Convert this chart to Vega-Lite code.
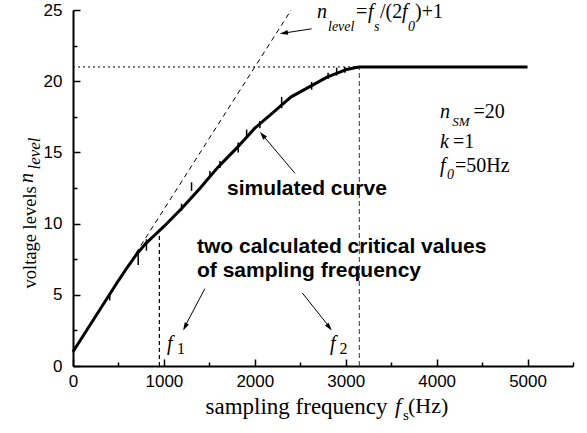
{
  "$schema": "https://vega.github.io/schema/vega-lite/v6.json",
  "width": 500,
  "height": 356,
  "autosize": "none",
  "padding": {"left": 73, "top": 10, "right": 14, "bottom": 67},
  "background": "white",
  "config": {"view": {"stroke": null}},
  "datasets": {
    "curve": [
      {"x": 0, "y": 1}, {"x": 100, "y": 2}, {"x": 200, "y": 3}, {"x": 300, "y": 4.0}, {"x": 400, "y": 5.0},
      {"x": 500, "y": 6.0}, {"x": 600, "y": 6.95}, {"x": 700, "y": 7.85}, {"x": 800, "y": 8.6}, {"x": 900, "y": 9.2},
      {"x": 1000, "y": 9.8}, {"x": 1100, "y": 10.45}, {"x": 1200, "y": 11.1}, {"x": 1300, "y": 11.8}, {"x": 1400, "y": 12.5},
      {"x": 1500, "y": 13.25}, {"x": 1600, "y": 14.0}, {"x": 1700, "y": 14.65}, {"x": 1800, "y": 15.3}, {"x": 1900, "y": 16.0},
      {"x": 2000, "y": 16.7}, {"x": 2100, "y": 17.25}, {"x": 2200, "y": 17.8}, {"x": 2300, "y": 18.35}, {"x": 2400, "y": 18.9},
      {"x": 2500, "y": 19.25}, {"x": 2600, "y": 19.6}, {"x": 2700, "y": 19.95}, {"x": 2800, "y": 20.3}, {"x": 2900, "y": 20.55},
      {"x": 3000, "y": 20.8}, {"x": 3100, "y": 20.95}, {"x": 3150, "y": 21.0}, {"x": 5000, "y": 21.0}
    ],
    "spikes": [
      {"x": 404, "y": 5.0, "y2": 4.6}, {"x": 717, "y": 7.95, "y2": 7.1}, {"x": 808, "y": 8.9, "y2": 8.1},
      {"x": 1194, "y": 11.4, "y2": 10.9}, {"x": 1304, "y": 12.9, "y2": 12.3}, {"x": 1506, "y": 13.7, "y2": 13.2},
      {"x": 1616, "y": 14.4, "y2": 13.9}, {"x": 1817, "y": 15.7, "y2": 15.0}, {"x": 1910, "y": 16.6, "y2": 16.1},
      {"x": 2056, "y": 17.2, "y2": 16.7}, {"x": 2295, "y": 18.9, "y2": 18.1}, {"x": 2625, "y": 19.95, "y2": 19.4},
      {"x": 2806, "y": 20.6, "y2": 20.15}, {"x": 2900, "y": 20.95, "y2": 20.4}, {"x": 2990, "y": 21.0, "y2": 20.6}
    ],
    "diag": [{"x": 0, "y": 1}, {"x": 2400, "y": 25}],
    "level": [{"x": 0, "y": 21}, {"x": 3150, "y": 21}],
    "f1line": [{"x": 950, "y": 0, "y2": 9.3}],
    "f2line": [{"x": 3150, "y": 0, "y2": 21}],
    "arrows": [
      {"x": 2625, "y": 23.68, "x2": 2300, "y2": 23.36},
      {"x": 2442, "y": 13.53, "x2": 2075, "y2": 16.3},
      {"x": 1450, "y": 5.43, "x2": 1225, "y2": 2.7},
      {"x": 2522, "y": 5.13, "x2": 2828, "y2": 2.68}
    ],
    "headA": [{"x": 2320, "y": 23.38}],
    "headB": [{"x": 2085, "y": 16.22}],
    "headC": [{"x": 1232, "y": 2.75}],
    "headD": [{"x": 2819, "y": 2.72}],
    "it": [
      {"t": "n", "x": 2684, "y": 24.44}, {"t": "f", "x": 3245, "y": 24.44}, {"t": "f", "x": 3619, "y": 24.44},
      {"t": "n", "x": 4037, "y": 17.42}, {"t": "k", "x": 4037, "y": 15.3}, {"t": "f", "x": 4037, "y": 13.62},
      {"t": "f", "x": 1034, "y": 1.12}, {"t": "f", "x": 2827, "y": 1.12}
    ],
    "sub": [
      {"t": "level", "x": 2805, "y": 23.53}, {"t": "s", "x": 3311, "y": 23.53}, {"t": "0", "x": 3685, "y": 23.53},
      {"t": "0", "x": 4114, "y": 13.13}
    ],
    "subsm": [
      {"t": "SM", "x": 4172, "y": 16.85}
    ],
    "rm": [
      {"t": "=", "x": 3113, "y": 24.44}, {"t": "/(2", "x": 3377, "y": 24.44}, {"t": ")+1", "x": 3762, "y": 24.44},
      {"t": "=20", "x": 4405, "y": 17.42}, {"t": "=1", "x": 4180, "y": 15.3}, {"t": "=50Hz", "x": 4202, "y": 13.62}
    ],
    "num": [
      {"t": "1", "x": 1144, "y": 0.84}, {"t": "2", "x": 2932, "y": 0.84}
    ],
    "xit": [{"t": "f", "x": 3542, "y": -3.3}],
    "xsub": [{"t": "s", "x": 3630, "y": -3.79}],
    "xrm": [{"t": "(Hz)", "x": 3685, "y": -3.3}],
    "bold": [
      {"t": "simulated curve", "x": 1694, "y": 12.01},
      {"t": "two calculated critical values", "x": 1364, "y": 7.91},
      {"t": "of sampling frequency", "x": 1364, "y": 6.25}
    ],
    "yn": [{"t": "n", "x": -440, "y": 12.85}],
    "ylevel": [{"t": "level", "x": -366, "y": 13.8}]
  },
  "encoding": {
    "x": {
      "field": "x", "type": "quantitative",
      "scale": {"domain": [0, 5500], "nice": false, "zero": false},
      "axis": {
        "values": [0, 500, 1000, 1500, 2000, 2500, 3000, 3500, 4000, 4500, 5000, 5500],
        "format": "d",
        "labelExpr": "datum.value % 1000 === 0 && datum.value <= 5000 ? datum.label : ''",
        "labelFlush": false,
        "grid": false,
        "domainColor": "black", "domainWidth": 2,
        "tickColor": "black", "tickWidth": 1.5,
        "tickSize": {"condition": {"test": "datum.value % 1000 === 0", "value": -7}, "value": -4},
        "labelPadding": 14,
        "labelFont": "Liberation Sans", "labelFontSize": 17, "labelColor": "black",
        "title": "sampling frequency",
        "titleFont": "Liberation Serif", "titleFontSize": 23, "titleFontWeight": "normal", "titleColor": "black",
        "titleAlign": "left", "titleBaseline": "alphabetic", "titleX": 132, "titleY": 47
      }
    },
    "y": {
      "field": "y", "type": "quantitative",
      "scale": {"domain": [0, 25], "nice": false, "zero": false},
      "axis": {
        "values": [0, 2.5, 5, 7.5, 10, 12.5, 15, 17.5, 20, 22.5, 25],
        "labelExpr": "datum.value % 5 === 0 ? datum.label : ''",
        "labelFlush": false,
        "grid": false,
        "domainColor": "black", "domainWidth": 2,
        "tickColor": "black", "tickWidth": 1.5,
        "tickSize": {"condition": {"test": "datum.value % 5 === 0", "value": -7}, "value": -4},
        "labelPadding": 18,
        "labelFont": "Liberation Sans", "labelFontSize": 17, "labelColor": "black",
        "title": "voltage levels",
        "titleFont": "Liberation Serif", "titleFontSize": 18.5, "titleFontWeight": "normal", "titleColor": "black",
        "titleAngle": -90, "titleAlign": "left", "titleBaseline": "alphabetic", "titleX": -38, "titleY": 278
      }
    }
  },
  "layer": [
    {"data": {"name": "diag"}, "mark": {"type": "line", "color": "black", "strokeWidth": 1, "strokeDash": [5, 4]}},
    {"data": {"name": "level"}, "mark": {"type": "line", "color": "black", "strokeWidth": 1, "strokeDash": [2, 3]}},
    {"data": {"name": "f1line"}, "mark": {"type": "rule", "color": "black", "strokeWidth": 1.2, "strokeDash": [4, 3]}, "encoding": {"y2": {"field": "y2"}}},
    {"data": {"name": "f2line"}, "mark": {"type": "rule", "color": "#555555", "strokeWidth": 1.2, "strokeDash": [5, 3]}, "encoding": {"y2": {"field": "y2"}}},
    {"data": {"name": "curve"}, "mark": {"type": "line", "color": "black", "strokeWidth": 3}},
    {"data": {"name": "spikes"}, "mark": {"type": "rule", "color": "black", "strokeWidth": 1.5}, "encoding": {"y2": {"field": "y2"}}},
    {"data": {"name": "arrows"}, "mark": {"type": "rule", "color": "black", "strokeWidth": 1}, "encoding": {"x2": {"field": "x2"}, "y2": {"field": "y2"}}},
    {"data": {"name": "headA"}, "mark": {"type": "point", "shape": "M0,-1L0.6,1L-0.6,1Z", "filled": true, "size": 64, "color": "black", "opacity": 1, "strokeWidth": 0, "angle": 261}},
    {"data": {"name": "headB"}, "mark": {"type": "point", "shape": "M0,-1L0.6,1L-0.6,1Z", "filled": true, "size": 64, "color": "black", "opacity": 1, "strokeWidth": 0, "angle": 320}},
    {"data": {"name": "headC"}, "mark": {"type": "point", "shape": "M0,-1L0.6,1L-0.6,1Z", "filled": true, "size": 64, "color": "black", "opacity": 1, "strokeWidth": 0, "angle": 207.5}},
    {"data": {"name": "headD"}, "mark": {"type": "point", "shape": "M0,-1L0.6,1L-0.6,1Z", "filled": true, "size": 64, "color": "black", "opacity": 1, "strokeWidth": 0, "angle": 142}},
    {"data": {"name": "it"}, "mark": {"type": "text", "font": "Liberation Serif", "fontStyle": "italic", "fontSize": 20, "align": "left", "baseline": "alphabetic", "color": "black"}, "encoding": {"text": {"field": "t"}}},
    {"data": {"name": "sub"}, "mark": {"type": "text", "font": "Liberation Serif", "fontStyle": "italic", "fontSize": 14, "align": "left", "baseline": "alphabetic", "color": "black"}, "encoding": {"text": {"field": "t"}}},
    {"data": {"name": "subsm"}, "mark": {"type": "text", "font": "Liberation Serif", "fontStyle": "italic", "fontSize": 13, "align": "left", "baseline": "alphabetic", "color": "black"}, "encoding": {"text": {"field": "t"}}},
    {"data": {"name": "rm"}, "mark": {"type": "text", "font": "Liberation Serif", "fontSize": 20, "align": "left", "baseline": "alphabetic", "color": "black"}, "encoding": {"text": {"field": "t"}}},
    {"data": {"name": "num"}, "mark": {"type": "text", "font": "Liberation Serif", "fontSize": 16, "align": "left", "baseline": "alphabetic", "color": "black"}, "encoding": {"text": {"field": "t"}}},
    {"data": {"name": "xit"}, "mark": {"type": "text", "font": "Liberation Serif", "fontStyle": "italic", "fontSize": 22, "align": "left", "baseline": "alphabetic", "color": "black"}, "encoding": {"text": {"field": "t"}}},
    {"data": {"name": "xsub"}, "mark": {"type": "text", "font": "Liberation Serif", "fontSize": 15, "align": "left", "baseline": "alphabetic", "color": "black"}, "encoding": {"text": {"field": "t"}}},
    {"data": {"name": "xrm"}, "mark": {"type": "text", "font": "Liberation Serif", "fontSize": 22, "align": "left", "baseline": "alphabetic", "color": "black"}, "encoding": {"text": {"field": "t"}}},
    {"data": {"name": "bold"}, "mark": {"type": "text", "font": "Liberation Sans", "fontWeight": "bold", "fontSize": 21, "align": "left", "baseline": "alphabetic", "color": "black"}, "encoding": {"text": {"field": "t"}}},
    {"data": {"name": "yn"}, "mark": {"type": "text", "font": "Liberation Serif", "fontStyle": "italic", "fontSize": 20, "angle": 270, "align": "left", "baseline": "alphabetic", "color": "black"}, "encoding": {"text": {"field": "t"}}},
    {"data": {"name": "ylevel"}, "mark": {"type": "text", "font": "Liberation Serif", "fontStyle": "italic", "fontSize": 17, "angle": 270, "align": "left", "baseline": "alphabetic", "color": "black"}, "encoding": {"text": {"field": "t"}}}
  ]
}
